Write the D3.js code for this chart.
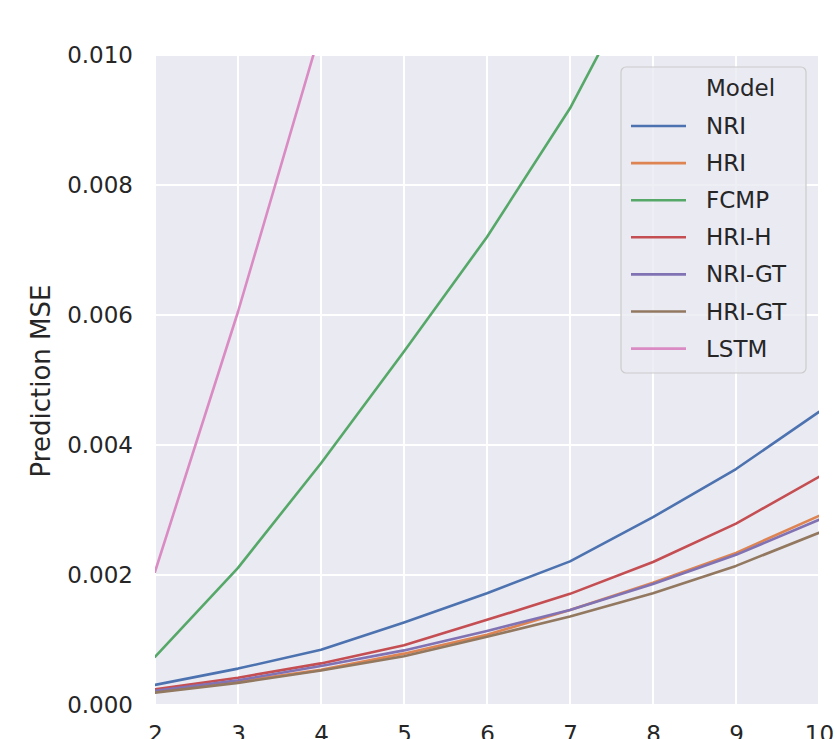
<!DOCTYPE html>
<html>
<head>
<meta charset="utf-8">
<script src="https://cdn.jsdelivr.net/npm/d3@7"></script>
<style>
  html, body { margin: 0; padding: 0; background: #ffffff; }
  svg { display: block; }
</style>
</head>
<body>
<svg id="chart" width="837" height="739"></svg>
<script>
// ---- data ----
const steps = [2, 3, 4, 5, 6, 7, 8, 9, 10];
const models = ["NRI", "HRI", "FCMP", "HRI-H", "NRI-GT", "HRI-GT", "LSTM"];
const colors = ["#4C72B0", "#DD8452", "#55A868", "#C44E52", "#8172B3", "#937860", "#DA8BC3"];
const nri   = [0.00031, 0.00056, 0.00085, 0.00127, 0.00172, 0.00221, 0.00289, 0.00363, 0.00451];
const hri   = [0.00020, 0.00036, 0.00054, 0.00079, 0.00108, 0.00146, 0.00188, 0.00234, 0.00291];
const fcmp  = [0.00074, 0.00211, 0.00372, 0.00544, 0.00720, 0.00918, 0.01160, 0.01420, 0.01700];
const hriH  = [0.00024, 0.00042, 0.00064, 0.00092, 0.00131, 0.00171, 0.00220, 0.00279, 0.00351];
const nriGT = [0.00022, 0.00038, 0.00060, 0.00084, 0.00114, 0.00146, 0.00186, 0.00231, 0.00285];
const hriGT = [0.00019, 0.00034, 0.00053, 0.00075, 0.00105, 0.00136, 0.00172, 0.00214, 0.00265];
const lstm  = [0.00205, 0.00605, 0.01040, 0.01550, 0.02100, 0.02700, 0.03350, 0.04050, 0.04800];
const seriesValues = [nri, hri, fcmp, hriH, nriGT, hriGT, lstm];
const yTicks = [0.000, 0.002, 0.004, 0.006, 0.008, 0.010];
const xTicks = [2, 3, 4, 5, 6, 7, 8, 9, 10];
const yLabel = "Prediction MSE";
const legendTitle = "Model";

(function () {
// ---- layout ----
const svg = d3.select("#chart");
const pL = 155, pR = 819, pT = 55, pB = 705;
const font = "'DejaVu Sans', sans-serif";

const x = d3.scaleLinear().domain([2, 10]).range([pL, pR]);
const y = d3.scaleLinear().domain([0, 0.010]).range([pB, pT]);

svg.append("defs").append("clipPath").attr("id", "plotclip")
  .append("rect").attr("x", pL).attr("y", pT)
  .attr("width", pR - pL).attr("height", pB - pT);

svg.append("rect").attr("x", pL).attr("y", pT)
  .attr("width", pR - pL).attr("height", pB - pT)
  .attr("fill", "#EAEAF2");

// grid
const grid = svg.append("g");
grid.selectAll("line.gx").data(xTicks).enter().append("line")
  .attr("x1", d => x(d)).attr("x2", d => x(d))
  .attr("y1", pT).attr("y2", pB)
  .attr("stroke", "#ffffff").attr("stroke-width", 2);
grid.selectAll("line.gy").data(yTicks).enter().append("line")
  .attr("x1", pL).attr("x2", pR)
  .attr("y1", d => y(d)).attr("y2", d => y(d))
  .attr("stroke", "#ffffff").attr("stroke-width", 2);

// axes (text only, no ticks, seaborn darkgrid style)
const yAxis = svg.append("g").attr("transform", `translate(${pL},0)`)
  .call(d3.axisLeft(y).tickValues(yTicks).tickFormat(d3.format(".3f")).tickSize(0).tickPadding(22));
const xAxis = svg.append("g").attr("transform", `translate(0,${pB})`)
  .call(d3.axisBottom(x).tickValues(xTicks).tickFormat(d3.format("d")).tickSize(0).tickPadding(21));
[xAxis, yAxis].forEach(a => {
  a.select(".domain").remove();
  a.selectAll("text").attr("font-family", font).attr("font-size", 23).attr("fill", "#262626");
});

// y label
svg.append("text")
  .attr("transform", `translate(50,381) rotate(-90)`)
  .attr("text-anchor", "middle")
  .attr("font-family", font).attr("font-size", 26).attr("fill", "#262626")
  .text(yLabel);

// lines
const line = d3.line().x((d, i) => x(steps[i])).y(d => y(d));
const lines = svg.append("g").attr("clip-path", "url(#plotclip)");
models.forEach((m, k) => {
  lines.append("path").datum(seriesValues[k])
    .attr("d", line)
    .attr("fill", "none")
    .attr("stroke", colors[k])
    .attr("stroke-width", 2.6)
    .attr("stroke-linejoin", "round")
    .attr("stroke-linecap", "round");
});

// legend
const lg = svg.append("g");
lg.append("rect").attr("x", 621).attr("y", 67).attr("width", 185).attr("height", 306)
  .attr("rx", 5).attr("ry", 5)
  .attr("fill", "rgba(234,234,242,0.8)").attr("stroke", "#cccccc").attr("stroke-width", 1.2);
lg.append("text").attr("x", 706).attr("y", 88).attr("dy", "0.35em")
  .attr("font-family", font).attr("font-size", 23).attr("fill", "#262626")
  .text(legendTitle);
models.forEach((m, k) => {
  const yy = 126 + k * 37.1;
  lg.append("line").attr("x1", 631).attr("x2", 686).attr("y1", yy).attr("y2", yy)
    .attr("stroke", colors[k]).attr("stroke-width", 2.6);
  lg.append("text").attr("x", 706).attr("y", yy).attr("dy", "0.35em")
    .attr("font-family", font).attr("font-size", 23).attr("fill", "#262626")
    .text(m);
});
})();
</script>
</body>
</html>
